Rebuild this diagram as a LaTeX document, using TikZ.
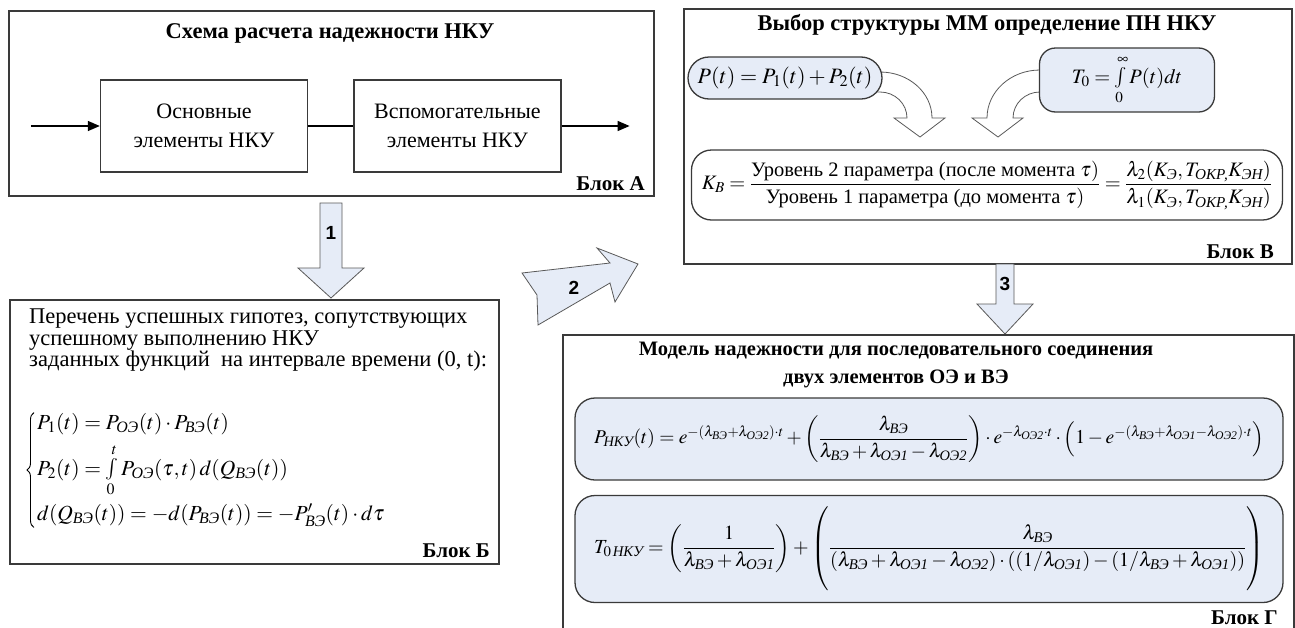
\documentclass[tikz,border=0pt]{standalone}
\usepackage{amsmath}
\usepackage{mathptmx}
\usepackage{fontspec}
\setmainfont{Liberation Serif}
\setsansfont{Liberation Sans}
\usetikzlibrary{arrows.meta, positioning, calc, decorations.pathreplacing}
\definecolor{pale}{HTML}{E6ECF7}
\definecolor{edge}{HTML}{3A3A3A}
\newcommand{\cyi}[1]{\text{\itshape #1}}
\tikzset{%
	frame/.style={draw=edge, line width=1.8pt, rectangle, inner sep=0pt, anchor=north west},
	elem/.style={draw=edge, line width=1.4pt, rectangle, minimum width=207, minimum height=92,%
		align=center, font=\fontsize{22}{29}\selectfont},
	title/.style={font=\fontsize{22.5}{28}\selectfont\bfseries, align=center},
	blk/.style={font=\fontsize{21}{24}\selectfont\bfseries, anchor=base east, inner sep=0pt},
	txt/.style={font=\fontsize{22.5}{21.5}\selectfont, align=left, inner sep=0pt},
	eq/.style={font=\fontsize{20.5}{24}\selectfont, inner sep=0pt},
	pill/.style={draw=edge, line width=1.3pt, fill=pale, rounded corners=#1, inner sep=0pt},
	pill/.default=20pt,
	fat/.style={draw=black!65, line width=0.8pt, fill=pale, line join=miter},
	curl/.style={draw=black!65, line width=0.8pt, fill=white},
	num/.style={font=\fontsize{19}{19}\selectfont\sffamily\bfseries},
	sel/.style={-{Triangle[length=12pt, width=10pt]}, line width=1.4pt},
	curly/.style={decorate, decoration={brace, amplitude=7pt}, line width=0.9pt}
}

\begin{document}
\begin{tikzpicture}[x=1pt, y=-1pt]
	\useasboundingbox (0,0) rectangle (1295,627);

	% Блок А
	\node[frame, minimum width=645, minimum height=185] (blkA) at (8,10) {};
	\node[title] (titA) at (330,33) {Схема расчета надежности НКУ};
	\node[elem] (osn) at (204,126) {Основные\\элементы НКУ};
	\node[elem, right=45 of osn] (vsp) {Вспомогательные\\элементы НКУ};
	\coordinate[left=69 of osn] (inA);
	\coordinate[right=68 of vsp] (outA);
	\draw[sel] (inA) -- (osn);
	\draw[line width=1.4pt] (osn) -- (vsp);
	\draw[sel] (vsp) -- (outA);
	\node[blk] (labA) at (645,190) {Блок А};

	% стрелка 1
	\draw[fat] (320,203) -- (342,203) -- (342,268) -- (364,268) -- (331,298) -- (298,268) -- (320,268) -- cycle;
	\node[num] (n1) at (331,233) {1};

	% Блок Б
	\node[frame, minimum width=489, minimum height=264] (blkB) at (9,299) {};
	\node[txt, anchor=north west] (perech) at (29,309) {Перечень успешных гипотез, сопутствующих\\успешному выполнению НКУ\\заданных функций\ \ на интервале времени (0, t):};
	\node[eq, anchor=west, font=\fontsize{21.5}{24}\selectfont] (hyp) at (37,470) {$\begin{array}{@{}l@{}}
		P_1(t)=P_{\cyi{ОЭ}}(t)\cdot P_{\cyi{ВЭ}}(t)\\[7pt]
		P_2(t)=\int\limits_0^t P_{\cyi{ОЭ}}(\tau,t)\,d(Q_{\cyi{ВЭ}}(t))\\[21pt]
		d(Q_{\cyi{ВЭ}}(t))=-d(P_{\cyi{ВЭ}}(t))=-P'_{\cyi{ВЭ}}(t)\cdot d\tau
	\end{array}$};
	\draw[curly] ($(hyp.south west)+(-3,0)$) -- ($(hyp.north west)+(-3,0)$);
	\node[blk] (labB) at (490,557) {Блок Б};

	% стрелка 2
	\draw[fat] (522,273) -- (610,263) -- (597,248) -- (638,264) -- (615,302) -- (610,283) -- (538,325) -- (537,295) -- cycle;
	\node[num] (n2) at (574,288) {2};

	% Блок В
	\node[frame, minimum width=608, minimum height=255] (blkV) at (683,8) {};
	\node[title] (titV) at (987,25) {Выбор структуры ММ определение ПН НКУ};
	\draw[curl] (870,72) -- (880,72) .. controls (908.7,72) and (932,92.6) .. (932,118) -- (945,118) -- (920,137) -- (894,118) -- (907,118) .. controls (907,103.6) and (894.9,92) .. (880,92) -- (870,92) -- cycle;
	\draw[curl] (1046,70) -- (1040,70) .. controls (1010.7,70) and (987,91.5) .. (987,118) -- (972,118) -- (998,137) -- (1023,118) -- (1013,118) .. controls (1013,103.6) and (1025.1,92) .. (1040,92) -- (1046,92) -- cycle;
	\node[pill=21pt, eq, font=\fontsize{22}{24}\selectfont, minimum width=194, minimum height=42] (pt) at (785,78) {$P(t)=P_1(t)+P_2(t)$};
	\node[pill=16pt, eq, minimum width=175, minimum height=64] (t0) at (1127,80) {$T_0=\int\limits_0^\infty P(t)dt$};
	\node[pill, eq, fill=white, minimum width=591, minimum height=70] (kb) at (987,185) {$K_B=\dfrac{\text{Уровень 2 параметра (после момента }\tau)}{\text{Уровень 1 параметра (до момента }\tau)}=\dfrac{\lambda_2(K_{\cyi{Э}},T_{\cyi{ОКР,}}K_{\cyi{ЭН}})}{\lambda_1(K_{\cyi{Э}},T_{\cyi{ОКР,}}K_{\cyi{ЭН}})}$};
	\node[blk] (labV) at (1274,258) {Блок В};

	% стрелка 3
	\draw[fat] (996,264) -- (1014,264) -- (1014,304) -- (1033,304) -- (1005,334) -- (977,304) -- (996,304) -- cycle;
	\node[num] (n3) at (1005,284) {3};

	% Блок Г
	\node[frame, minimum width=731, minimum height=320] (blkG) at (562,334) {};
	\node[title, font=\fontsize{20.5}{28}\selectfont\bfseries] (titG) at (896,365) {Модель надежности для последовательного соединения\\двух элементов ОЭ и ВЭ};
	\node[pill, eq, font=\fontsize{19.5}{24}\selectfont, minimum width=708, minimum height=82] (phk) at (929,439) {$P_{\cyi{НКУ}}(t)=e^{-(\lambda_{\cyi{ВЭ}}+\lambda_{\cyi{ОЭ2}})\cdot t}+\left(\dfrac{\lambda_{\cyi{ВЭ}}}{\lambda_{\cyi{ВЭ}}+\lambda_{\cyi{ОЭ1}}-\lambda_{\cyi{ОЭ2}}}\right)\cdot e^{-\lambda_{\cyi{ОЭ2}}\cdot t}\cdot\left(1-e^{-(\lambda_{\cyi{ВЭ}}+\lambda_{\cyi{ОЭ1}}-\lambda_{\cyi{ОЭ2}})\cdot t}\right)$};
	\node[pill, eq, font=\fontsize{20}{24}\selectfont, minimum width=708, minimum height=107] (thk) at (929,549) {$T_{0\,\cyi{НКУ}}=\left(\dfrac{1}{\lambda_{\cyi{ВЭ}}+\lambda_{\cyi{ОЭ1}}}\right)+\left(\dfrac{\lambda_{\cyi{ВЭ}}}{\left(\lambda_{\cyi{ВЭ}}+\lambda_{\cyi{ОЭ1}}-\lambda_{\cyi{ОЭ2}}\right)\cdot\left(\left(1/\lambda_{\cyi{ОЭ1}}\right)-\left(1/\lambda_{\cyi{ВЭ}}+\lambda_{\cyi{ОЭ1}}\right)\right)}\vphantom{\dfrac{A}{\dfrac{A}{A}}}\right)$};
	\node[blk] (labG) at (1278,624) {Блок Г};
\end{tikzpicture}
\end{document}
